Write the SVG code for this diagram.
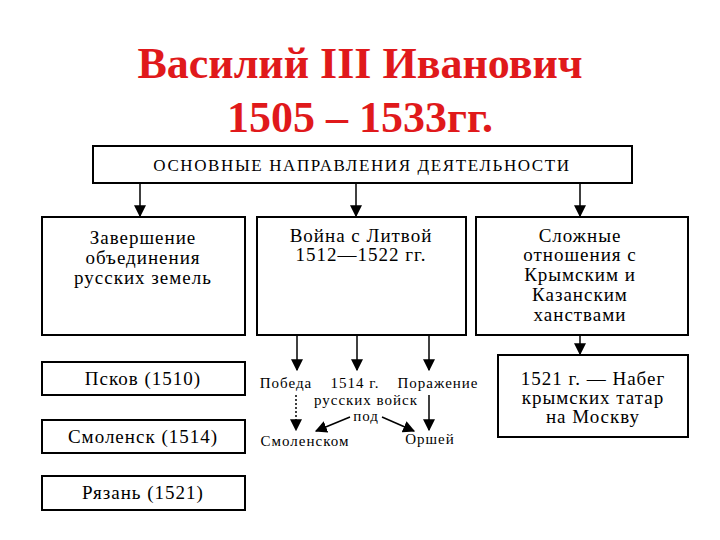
<svg xmlns="http://www.w3.org/2000/svg" width="720" height="540" viewBox="0 0 720 540">
<style>
.t{font-family:"Liberation Serif",serif;font-size:44px;font-weight:bold;fill:#e0191b;text-anchor:middle}
.b{fill:#fff;stroke:#000;stroke-width:2}
.x{font-family:"Liberation Serif",serif;font-size:19px;letter-spacing:1px;fill:#000;text-anchor:middle}
.s{font-size:15px;letter-spacing:1px}
.c{stroke:#000;stroke-width:1.5;fill:none}
</style>
<defs><marker id="a" viewBox="0 0 10 10" refX="9" refY="5" markerWidth="8" markerHeight="8" orient="auto"><path d="M0,0L10,5L0,10z" fill="#000"/></marker></defs>
<rect width="720" height="540" fill="#fff"/>
<text class="t" x="360" y="78">Василий III Иванович</text>
<text class="t" x="360" y="132">1505 – 1533гг.</text>
<g id="n0"><rect class="b" x="93" y="146" width="539" height="37"/><text class="x" x="362" y="171" style="font-size:17px;letter-spacing:1.6px">ОСНОВНЫЕ НАПРАВЛЕНИЯ ДЕЯТЕЛЬНОСТИ</text></g>
<g id="n1"><rect class="b" x="42" y="217" width="203" height="118"/><text class="x" x="143" y="244">Завершение</text><text class="x" x="143" y="264">объединения</text><text class="x" x="143" y="284">русских земель</text></g>
<g id="n2"><rect class="b" x="257" y="217" width="209" height="118"/><text class="x" x="361" y="242">Война с Литвой</text><text class="x" x="361" y="261">1512—1522 гг.</text></g>
<g id="n3"><rect class="b" x="476" y="217" width="212" height="118"/><text class="x" x="580" y="242">Сложные</text><text class="x" x="580" y="261">отношения с</text><text class="x" x="580" y="281">Крымским и</text><text class="x" x="580" y="301">Казанским</text><text class="x" x="580" y="321">ханствами</text></g>
<g id="n4"><rect class="b" x="42" y="362" width="203" height="33"/><text class="x" x="143" y="385">Псков (1510)</text></g>
<g id="n5"><rect class="b" x="42" y="420" width="203" height="33"/><text class="x" x="143" y="443">Смоленск (1514)</text></g>
<g id="n6"><rect class="b" x="42" y="476" width="203" height="34"/><text class="x" x="143" y="499">Рязань (1521)</text></g>
<g id="n7"><rect class="b" x="498" y="355" width="190" height="82"/><text class="x" x="593" y="385">1521 г. — Набег</text><text class="x" x="593" y="404">крымских татар</text><text class="x" x="593" y="423">на Москву</text></g>
<g id="n8"><text class="x s" x="286" y="388">Победа</text><text class="x s" x="355" y="388">1514 г.</text><text class="x s" x="438" y="388">Поражение</text><text class="x s" x="366" y="405">русских войск</text><text class="x s" x="366" y="421">под</text><text class="x s" x="305" y="446">Смоленском</text><text class="x s" x="430" y="444">Оршей</text></g>
<g id="connectors">
<line class="c" x1="140" y1="183" x2="140" y2="216" marker-end="url(#a)"/>
<line class="c" x1="356" y1="183" x2="356" y2="216" marker-end="url(#a)"/>
<line class="c" x1="580" y1="183" x2="580" y2="216" marker-end="url(#a)"/>
<line class="c" x1="580" y1="335" x2="580" y2="354" marker-end="url(#a)"/>
<line class="c" x1="297" y1="335" x2="297" y2="370" marker-end="url(#a)"/>
<line class="c" x1="357" y1="335" x2="357" y2="370" marker-end="url(#a)"/>
<line class="c" x1="429" y1="335" x2="429" y2="370" marker-end="url(#a)"/>
<line class="c" x1="296" y1="395" x2="296" y2="430" stroke-dasharray="2,2" marker-end="url(#a)"/>
<line class="c" x1="429" y1="395" x2="429" y2="430" marker-end="url(#a)"/>
<line class="c" x1="350" y1="417" x2="316" y2="431" marker-end="url(#a)"/>
<line class="c" x1="382" y1="417" x2="414" y2="431" marker-end="url(#a)"/>
</g>
</svg>
